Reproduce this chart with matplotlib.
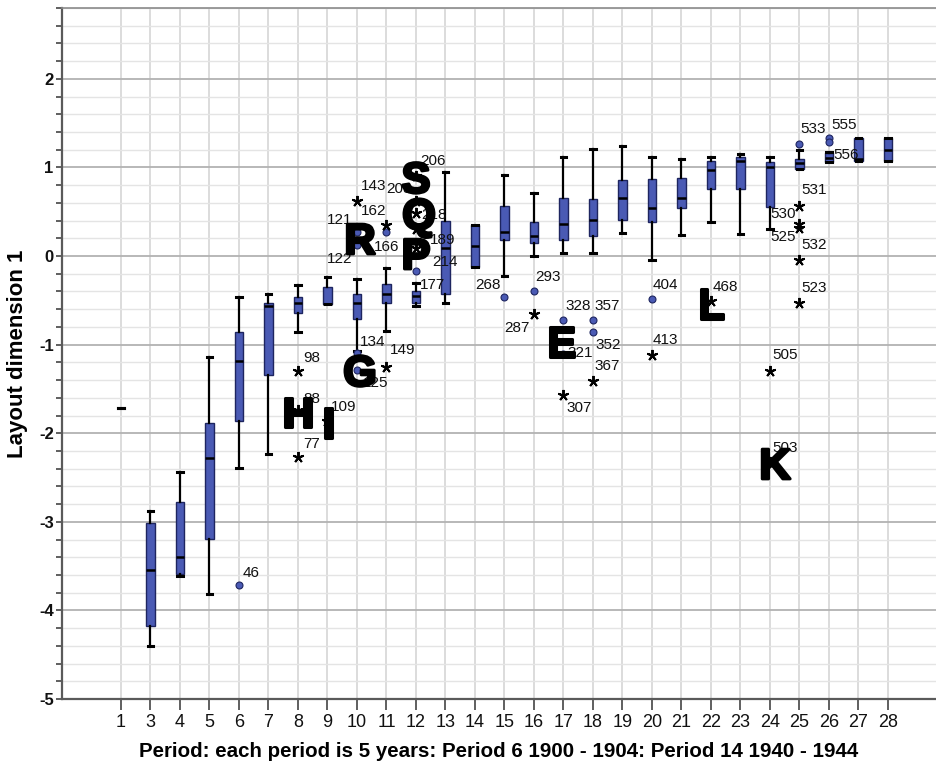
import numpy as np
import matplotlib
matplotlib.use("Agg")
import matplotlib.pyplot as plt
import matplotlib.patheffects as pe
from matplotlib.ticker import MultipleLocator

plt.rcParams["axes.unicode_minus"] = False

# Periods shown on the category axis (period 2 has no cases)
periods = [1, 3, 4, 5, 6, 7, 8, 9, 10, 11, 12, 13, 14, 15, 16, 17, 18, 19,
           20, 21, 22, 23, 24, 25, 26, 27, 28]

# Box-plot summary of layout dimension 1 per period
whislo = [-1.72, -4.40, -3.61, -3.81, -2.39, -2.24, -0.86, -0.54, -1.07, -0.85,
          -0.56, -0.53, -0.12, -0.22, 0.00, 0.03, 0.03, 0.26, -0.04, 0.24,
          0.38, 0.25, 0.30, 0.98, 1.06, 1.07, 1.07]
q1 = [-1.72, -4.18, -3.59, -3.19, -1.86, -1.34, -0.64, -0.54, -0.71, -0.53,
      -0.53, -0.43, -0.12, 0.18, 0.15, 0.18, 0.23, 0.41, 0.39, 0.54,
      0.76, 0.76, 0.55, 0.98, 1.06, 1.07, 1.07]
med = [-1.72, -3.54, -3.40, -2.28, -1.19, -0.56, -0.53, -0.54, -0.53, -0.43,
       -0.45, 0.09, 0.11, 0.27, 0.23, 0.36, 0.41, 0.65, 0.54, 0.65,
       0.97, 1.07, 1.00, 1.05, 1.11, 1.09, 1.20]
q3 = [-1.72, -3.01, -2.78, -1.88, -0.86, -0.53, -0.46, -0.35, -0.43, -0.32,
      -0.39, 0.40, 0.35, 0.56, 0.38, 0.65, 0.64, 0.86, 0.87, 0.88,
      1.07, 1.12, 1.06, 1.10, 1.16, 1.33, 1.33]
whishi = [-1.72, -2.875, -2.44, -1.14, -0.46, -0.43, -0.33, -0.24, -0.26, -0.13,
          -0.30, 0.95, 0.35, 0.91, 0.71, 1.12, 1.21, 1.24, 1.12, 1.10,
          1.12, 1.15, 1.12, 1.20, 1.18, 1.33, 1.33]

# Outliers (circles) with case numbers
mild_period = [6, 10, 10, 10, 10, 11, 12, 15, 16, 17, 17, 18, 18, 20, 25, 26, 26]
mild_value = [-3.71, 0.27, 0.12, -1.09, -1.29, 0.27, -0.17, -0.46, -0.40,
              -0.72, -1.11, -0.72, -0.86, -0.48, 1.27, 1.33, 1.29]
mild_case = ["46", "121", "122", "134", "125", "166", "177", "268", "293",
             "328", "321", "357", "352", "404", "533", "555", "556"]

# Extreme values (asterisks) with case numbers
extreme_period = [8, 8, 8, 9, 10, 11, 11, 12, 12, 12, 12, 12, 16, 17, 18, 20,
                  22, 24, 24, 25, 25, 25, 25, 25]
extreme_value = [-1.30, -1.74, -2.27, -1.86, 0.62, 0.35, -1.25, 0.90, 0.62,
                 0.49, 0.30, 0.09, -0.65, -1.57, -1.41, -1.12, -0.51, -1.30,
                 -2.33, 0.56, 0.36, 0.32, -0.05, -0.53]
extreme_case = ["98", "88", "77", "109", "143", "162", "149", "206", "208",
                "218", "189", "214", "287", "307", "367", "413", "468", "505",
                "503", "531", "530", "525", "532", "523"]

# Highlighted cases marked with large letters
letters = ["S", "Q", "P", "R", "G", "H", "I", "E", "L", "K"]
letter_period = [12, 12, 12, 10, 10, 8, 9, 17, 22, 24]
letter_value = [0.89, 0.48, 0.03, 0.20, -1.29, -1.76, -1.88, -0.96, -0.53, -2.34]
letter_shift = [0, 3, 0, 3, 3, 0, 1, -2, 0, 5]   # horizontal nudge, pixels

# Placement of case-number labels relative to their point (pixels, alignment)
label_place = {
    "46": (4, 12, "left"), "98": (5, 13, "left"), "88": (5, 11, "left"),
    "77": (5, 13, "left"), "109": (3, 14, "left"), "121": (-5, 12, "right"),
    "122": (-5, -14, "right"), "143": (4, 15, "left"), "162": (0, 14, "right"),
    "166": (-13, -15, "left"), "134": (3, 11, "left"), "125": (6, -13, "left"),
    "149": (3, 17, "left"), "206": (4, 15, "left"), "208": (-4, 12, "right"),
    "218": (5, -2, "left"), "189": (14, -11, "left"), "214": (16, -14, "left"),
    "177": (4, -14, "left"), "268": (-4, 12, "right"), "287": (-4, -14, "right"),
    "293": (1, 14, "left"), "328": (2, 14, "left"), "357": (2, 14, "left"),
    "321": (4, 1, "left"), "352": (3, -13, "left"), "367": (2, 15, "left"),
    "307": (3, -13, "left"), "404": (1, 14, "left"), "413": (1, 15, "left"),
    "468": (2, 14, "left"), "505": (2, 16, "left"), "503": (2, 14, "left"),
    "531": (2, 16, "left"), "530": (-4, 10, "right"), "525": (-4, -9, "right"),
    "532": (2, 15, "left"), "523": (2, 15, "left"), "533": (1, 15, "left"),
    "555": (2, 13, "left"), "556": (4, -13, "left"),
}

BOX_FACE = "#4A5AB4"
BOX_EDGE = "#1E2560"
FONT = ["Liberation Sans", "DejaVu Sans"]

pos_of = {p: i for i, p in enumerate(periods)}
positions = np.arange(len(periods))

fig = plt.figure(figsize=(9.36, 7.65), dpi=100)
ax = fig.add_axes([62 / 936, 66 / 765, 874 / 936, 691 / 765])

stats = [dict(med=m, q1=a, q3=b, whislo=lo, whishi=hi, fliers=[])
         for m, a, b, lo, hi in zip(med, q1, q3, whislo, whishi)]
ax.bxp(stats, positions=positions, widths=0.28, capwidths=0.18,
       patch_artist=True, showfliers=False, manage_ticks=False,
       boxprops=dict(facecolor=BOX_FACE, edgecolor=BOX_EDGE, linewidth=1.0),
       medianprops=dict(color="black", linewidth=1.8),
       whiskerprops=dict(color="black", linewidth=1.6),
       capprops=dict(color="black", linewidth=2.2))

mx = [pos_of[p] for p in mild_period]
ax.plot(mx, mild_value, linestyle="none", marker="o", markersize=5,
        markerfacecolor=BOX_FACE, markeredgecolor=BOX_EDGE, markeredgewidth=0.8,
        zorder=4)
ex = [pos_of[p] for p in extreme_period]
ax.plot(ex, extreme_value, linestyle="none", marker=(5, 2, 0), markersize=8,
        color="black", markeredgewidth=1.4, zorder=4)

for xs, vs, cs in ((mx, mild_value, mild_case), (ex, extreme_value, extreme_case)):
    for x, v, c in zip(xs, vs, cs):
        dx, dy, ha = label_place.get(c, (3, 14, "left"))
        ax.annotate(c, (x, v), xytext=(dx, dy), textcoords="offset pixels",
                    ha=ha, va="center", fontsize=11, family=FONT,
                    color="#111111", zorder=5)

for t, p, v, s in zip(letters, letter_period, letter_value, letter_shift):
    ax.annotate(t, (pos_of[p], v), xytext=(s, 0), textcoords="offset pixels",
                ha="center", va="center_baseline", fontsize=31,
                fontweight="bold", family=FONT, color="black", zorder=6,
                path_effects=[pe.withStroke(linewidth=2.2, foreground="black")])

ax.set_xlim(-2.0, 27.63)
ax.set_ylim(-5, 2.8)
ax.set_xticks(positions)
ax.set_xticklabels([str(p) for p in periods])
ax.set_yticks(range(-5, 3))
ax.yaxis.set_minor_locator(MultipleLocator(0.2))

ax.set_axisbelow(True)
ax.grid(which="major", axis="y", color="#b2b2b2", linewidth=1.3)
ax.grid(which="minor", axis="y", color="#e4e4e4", linewidth=1.0)
ax.grid(which="major", axis="x", color="#d6d6d6", linewidth=1.2)

for side in ("left", "bottom"):
    ax.spines[side].set_color("#5a5a5a")
    ax.spines[side].set_linewidth(1.6)
ax.spines["top"].set_color("#8a8a8a")
ax.spines["top"].set_linewidth(1.2)
ax.spines["right"].set_visible(False)

ax.tick_params(axis="x", which="major", direction="out", length=8, width=1.2,
               color="#444444", pad=3)
ax.tick_params(axis="y", which="both", direction="out", length=4, width=1.2,
               color="#444444", pad=2)
for lab in ax.get_xticklabels():
    lab.set_family(FONT)
    lab.set_fontsize(13)
    lab.set_color("#111111")
for lab in ax.get_yticklabels():
    lab.set_family(FONT)
    lab.set_fontweight("bold")
    lab.set_fontsize(12)
    lab.set_color("#111111")

ax.set_xlabel("Period: each period is 5 years: Period 6 1900 - 1904: Period 14 1940 - 1944",
              family=FONT, fontweight="bold", fontsize=14.8, labelpad=8)
ax.set_ylabel("Layout dimension 1", family=FONT, fontweight="bold", fontsize=16,
              labelpad=8)

fig.savefig("out.png", dpi=100)
